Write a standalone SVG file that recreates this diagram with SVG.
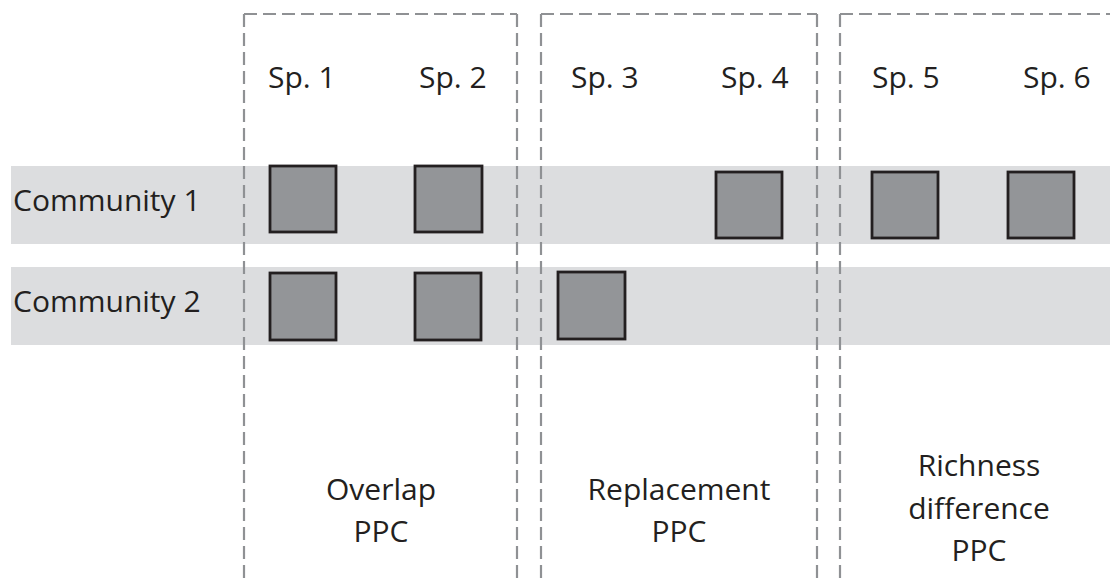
<svg xmlns="http://www.w3.org/2000/svg" width="1110" height="580" viewBox="0 0 1110 580">
  <style>
    .band { fill: #dcdddf; }
    .frame { fill: none; stroke: #8f9194; stroke-width: 2.2; stroke-dasharray: 13 6; }
    .cell { fill: #939598; stroke: #231f20; stroke-width: 2.8; }
    .lbl { font-family: "Open Sans", "Liberation Sans", sans-serif; font-size: 30px; fill: #231f20; }
    .mid { text-anchor: middle; }
  </style>
  <rect width="1110" height="580" fill="#ffffff"/>

  <!-- community rows -->
  <g id="row-community-1">
    <rect class="band" x="11" y="166" width="1099" height="78"/>
    <text class="lbl" x="13" y="211">Community 1</text>
  </g>
  <g id="row-community-2">
    <rect class="band" x="11" y="267" width="1099" height="78"/>
    <text class="lbl" x="13" y="312">Community 2</text>
  </g>

  <!-- dashed groupings of species -->
  <g id="group-overlap">
    <path class="frame" d="M244 14 V580"/>
    <path class="frame" d="M244 14 H517"/>
    <path class="frame" d="M517 14 V580"/>
    <text class="lbl mid" x="381" y="500">Overlap</text>
    <text class="lbl mid" x="381" y="542">PPC</text>
  </g>
  <g id="group-replacement">
    <path class="frame" d="M541 14 V580"/>
    <path class="frame" d="M541 14 H817"/>
    <path class="frame" d="M817 14 V580"/>
    <text class="lbl mid" x="679" y="500">Replacement</text>
    <text class="lbl mid" x="679" y="542">PPC</text>
  </g>
  <g id="group-richness">
    <path class="frame" d="M840 14 V580"/>
    <path class="frame" d="M840 14 H1116"/>
    <text class="lbl mid" x="979" y="476">Richness</text>
    <text class="lbl mid" x="979" y="519">difference</text>
    <text class="lbl mid" x="979" y="561">PPC</text>
  </g>

  <!-- species columns -->
  <g id="sp1">
    <text class="lbl" x="268" y="88">Sp. 1</text>
    <rect class="cell" x="270" y="166" width="66" height="66"/>
    <rect class="cell" x="270" y="273" width="66" height="67"/>
  </g>
  <g id="sp2">
    <text class="lbl" x="419" y="88">Sp. 2</text>
    <rect class="cell" x="415" y="166" width="67" height="66"/>
    <rect class="cell" x="415" y="273" width="66" height="67"/>
  </g>
  <g id="sp3">
    <text class="lbl" x="571" y="88">Sp. 3</text>
    <rect class="cell" x="558" y="272" width="67" height="67"/>
  </g>
  <g id="sp4">
    <text class="lbl" x="721" y="88">Sp. 4</text>
    <rect class="cell" x="716" y="172" width="66" height="66"/>
  </g>
  <g id="sp5">
    <text class="lbl" x="872" y="88">Sp. 5</text>
    <rect class="cell" x="872" y="172" width="66" height="66"/>
  </g>
  <g id="sp6">
    <text class="lbl" x="1023" y="88">Sp. 6</text>
    <rect class="cell" x="1008" y="172" width="66" height="66"/>
  </g>

  <g id="connectors"/>
</svg>
